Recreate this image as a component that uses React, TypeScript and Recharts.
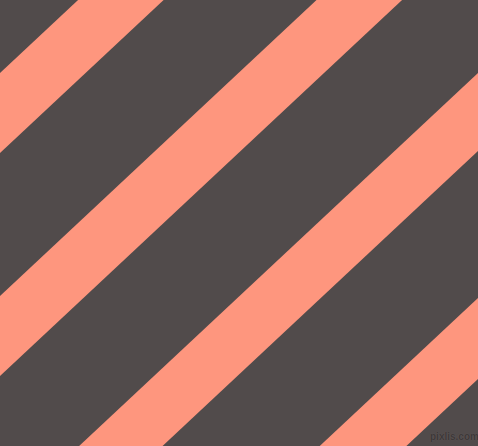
import React from "react";
import { ComposedChart, Area, XAxis, YAxis } from "recharts";

const W = 478;
const H = 446;

// stripe edges (pixel y) read at the left edge (x=0) and right edge (x=478)
const stripeNames = ["s1", "s2", "s3", "s4"];
const leftTop = [73, 296, 520, 745];
const leftBottom = [153, 376, 598, 826];
const rightTop = [-374, -151, 73, 298];
const rightBottom = [-294, -71, 151, 379];
const edgeX = [0, 478];

const BG = "#514B4B";
const STRIPE = "#FE967E";

const data = edgeX.map((x, i) => {
  const row: Record<string, any> = { x };
  stripeNames.forEach((name, k) => {
    row[name] = i === 0 ? [leftTop[k], leftBottom[k]] : [rightTop[k], rightBottom[k]];
  });
  return row;
});

export default function App() {
  return (
    <div
      style={{
        position: "fixed",
        left: 0,
        top: 0,
        width: W,
        height: H,
        background: BG,
        overflow: "hidden",
      }}
    >
      <ComposedChart width={W} height={H} data={data} margin={{ top: 0, right: 0, bottom: 0, left: 0 }}>
        <XAxis type="number" dataKey="x" domain={[0, W]} hide allowDataOverflow />
        <YAxis type="number" domain={[0, H]} reversed hide allowDataOverflow width={0} />
        {stripeNames.map((name) => (
          <Area
            key={name}
            type="linear"
            dataKey={name}
            stroke="none"
            fill={STRIPE}
            fillOpacity={1}
            isAnimationActive={false}
            dot={false}
            activeDot={false}
          />
        ))}
      </ComposedChart>
      <div
        style={{
          position: "absolute",
          left: 430,
          top: 432,
          fontFamily: "'Liberation Sans Narrow', 'Liberation Sans', sans-serif",
          fontWeight: "bold",
          fontSize: 10,
          lineHeight: 1,
          color: "#3d3838",
          textShadow: "0 0 1px #6a6262",
          whiteSpace: "nowrap",
        }}
      >
        pixlis.com
      </div>
    </div>
  );
}
